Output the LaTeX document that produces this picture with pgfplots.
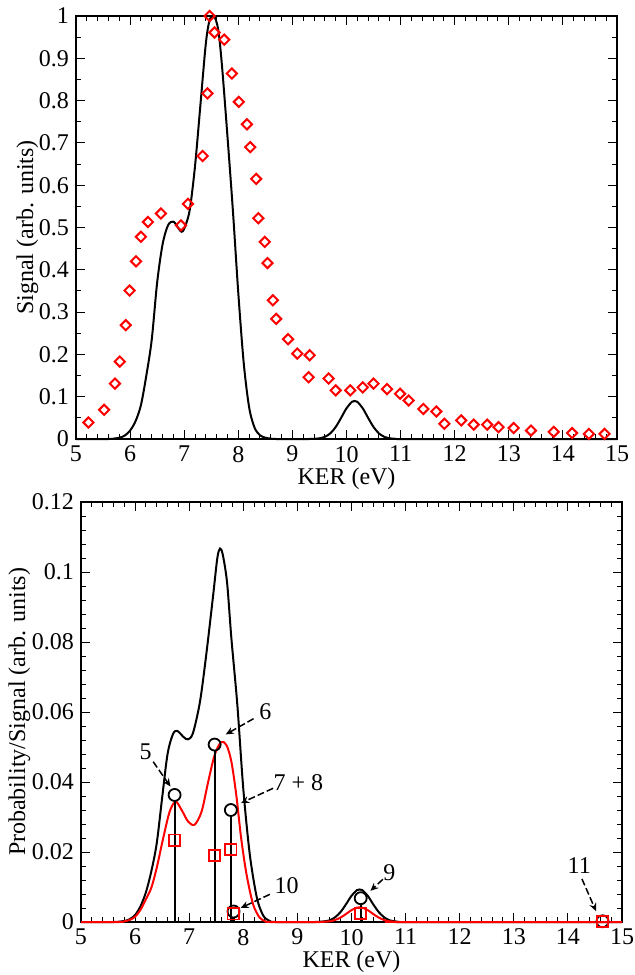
\documentclass[border=0pt]{standalone}
\usepackage{fontspec}
\setmainfont{Liberation Serif}
\usepackage{pgfplots}
\pgfplotsset{compat=1.18}
\usetikzlibrary{arrows.meta}

\pgfplotsset{
  kerstyle/.style={
    scale only axis, width=270.5pt, height=211.5pt,
    xmin=5, xmax=15, xtick distance=1, minor x tick num=4,
    tick align=inside, major tick length=4.5pt, minor tick length=2.5pt,
    every tick/.style={black, line width=0.5pt},
    axis line style={line width=0.8pt},
    tick label style={font=\fontsize{12}{14}\selectfont},
    label style={font=\fontsize{12}{14}\selectfont},
    /pgf/number format/assume math mode=true,
    /pgf/number format/fixed, /pgf/number format/precision=2,
    xlabel={KER (eV)}, xlabel shift=-4pt,
    clip=false,
  },
}
\tikzset{
  ann/.style={line width=0.75pt, dash pattern=on 3.5pt off 1.5pt,
    -{Stealth[length=4pt,width=3.5pt]}},
}

\begin{document}
\begin{tikzpicture}
\useasboundingbox (0,0) rectangle (317pt,-487.5pt);

% top panel: signal
\begin{axis}[kerstyle, at={(38pt,-8pt)}, anchor=north west,
  ymin=0, ymax=1, ytick distance=0.1, minor y tick num=1,
  ylabel={Signal (arb. units)}, ylabel shift=-6.5pt]
\addplot[black, line width=1pt, smooth] table {
5.0 0
5.6 0
5.7 0.001
5.8 0.003
5.9 0.008
6.0 0.02
6.1 0.042
6.2 0.08
6.3 0.15
6.4 0.235
6.5 0.37
6.6 0.46
6.7 0.505
6.8 0.514
6.9 0.497
6.95 0.49
7.0 0.497
7.1 0.54
7.2 0.645
7.3 0.79
7.4 0.935
7.47 0.99
7.55 1.0
7.63 0.967
7.7 0.88
7.8 0.715
7.9 0.54
8.0 0.345
8.1 0.18
8.2 0.075
8.3 0.027
8.4 0.009
8.5 0.003
8.6 0.001
8.7 0
9.3 0
9.4 0.0005
9.5 0.0016
9.6 0.0051
9.7 0.0132
9.8 0.0283
9.9 0.0499
10.0 0.0727
10.1 0.0879
10.15 0.09
10.2 0.0879
10.3 0.0727
10.4 0.0499
10.5 0.0283
10.6 0.0132
10.7 0.0051
10.8 0.0016
10.9 0.0005
11.0 0
15.0 0
};
\addplot[only marks, red, mark=square, mark size=1.8pt,
  mark options={rotate=45, line width=1pt}] table {
5.23 0.039
5.52 0.069
5.72 0.131
5.81 0.183
5.92 0.269
5.99 0.351
6.11 0.420
6.20 0.478
6.33 0.513
6.57 0.533
6.94 0.505
7.07 0.556
7.34 0.669
7.43 0.817
7.47 1.000
7.56 0.961
7.74 0.944
7.88 0.864
8.01 0.797
8.16 0.744
8.22 0.690
8.33 0.615
8.37 0.522
8.49 0.466
8.54 0.416
8.64 0.328
8.70 0.284
8.92 0.236
9.09 0.202
9.32 0.198
9.30 0.146
9.67 0.143
9.80 0.115
10.07 0.115
10.30 0.122
10.50 0.131
10.75 0.118
10.99 0.107
11.15 0.091
11.42 0.071
11.66 0.065
11.81 0.036
12.12 0.044
12.35 0.034
12.60 0.034
12.81 0.028
13.09 0.026
13.41 0.020
13.83 0.017
14.17 0.014
14.48 0.012
14.77 0.012
};
\end{axis}

% bottom panel: probability / signal
\begin{axis}[kerstyle, at={(40.5pt,-251pt)}, anchor=north west, height=210pt,
  ymin=0, ymax=0.12, ytick distance=0.02, minor y tick num=4,
  ylabel={Probability/Signal (arb. units)}, ylabel shift=-6pt]
\addplot[black, line width=1pt, smooth] table {
5.0 0
5.6 0
5.8 0.0003
5.9 0.0008
6.0 0.002
6.1 0.0045
6.2 0.0085
6.3 0.0145
6.4 0.0225
6.5 0.0355
6.6 0.048
6.7 0.0537
6.78 0.0546
6.9 0.0528
6.98 0.0522
7.07 0.0540
7.2 0.063
7.32 0.077
7.44 0.093
7.52 0.104
7.57 0.1067
7.62 0.105
7.7 0.097
7.78 0.081
7.89 0.062
8.0 0.038
8.12 0.0193
8.25 0.007
8.37 0.0018
8.49 0.0003
8.6 0
9.3 0
9.4 0.00005
9.5 0.0002
9.6 0.0005
9.7 0.0014
9.8 0.0029
9.9 0.0051
10.0 0.0075
10.1 0.0091
10.15 0.0093
10.2 0.0091
10.3 0.0075
10.4 0.0051
10.5 0.0029
10.6 0.0014
10.7 0.0005
10.8 0.0002
10.9 0
15.0 0
};
\addplot[red, line width=1pt, smooth] table {
5.0 0
5.7 0
5.8 0.0002
5.9 0.0006
6.0 0.0015
6.1 0.0035
6.2 0.0065
6.3 0.0098
6.4 0.0155
6.52 0.024
6.64 0.0316
6.75 0.0344
6.86 0.032
6.98 0.0287
7.1 0.0278
7.23 0.0316
7.35 0.040
7.47 0.0477
7.59 0.0514
7.69 0.0505
7.78 0.0458
7.87 0.0363
7.96 0.024
8.06 0.0136
8.18 0.0051
8.3 0.0013
8.4 0.0003
8.5 0
9.4 0
9.5 0.0001
9.6 0.0002
9.7 0.0006
9.8 0.0013
9.9 0.0023
10.0 0.0034
10.1 0.0041
10.15 0.0042
10.2 0.0041
10.3 0.0034
10.4 0.0023
10.5 0.0013
10.6 0.0006
10.7 0.0002
10.8 0.0001
10.9 0
15.0 0
};
% sticks up to the circles
\addplot[ycomb, black, line width=1pt, mark=none] table {
6.73 0.0345
7.47 0.0489
7.77 0.0302
7.82 0.0012
10.17 0.0050
};
\addplot[only marks, black, mark=o, mark size=3pt,
  mark options={line width=0.9pt}] table {
6.73 0.0363
7.47 0.0507
7.77 0.0320
7.82 0.0030
10.17 0.0068
14.64 0.0002
};
\addplot[only marks, red, mark=square, mark size=2.8pt,
  mark options={line width=0.9pt}] table {
6.73 0.0234
7.47 0.0190
7.77 0.0207
7.81 0.0023
10.17 0.0025
14.64 0.0002
};
\begin{scope}[font=\fontsize{12}{14}\selectfont]
\node at (axis cs:6.196,0.0487) {5};
\draw[ann] (axis cs:6.334,0.0458) -- (axis cs:6.654,0.0387);
\node at (axis cs:8.41,0.0600) {6};
\draw[ann] (axis cs:8.19,0.0581) -- (axis cs:7.675,0.0536);
\node at (axis cs:9.02,0.0397) {7 + 8};
\draw[ann] (axis cs:8.55,0.0382) -- (axis cs:7.96,0.0340);
\node at (axis cs:8.80,0.0103) {10};
\draw[ann] (axis cs:8.49,0.0079) -- (axis cs:7.95,0.0040);
\node at (axis cs:10.70,0.0141) {9};
\draw[ann] (axis cs:10.58,0.0122) -- (axis cs:10.35,0.0089);
\node at (axis cs:14.21,0.0161) {11};
\draw[ann] (axis cs:14.26,0.0123) -- (axis cs:14.52,0.0031);
\end{scope}
\end{axis}
\end{tikzpicture}
\end{document}
